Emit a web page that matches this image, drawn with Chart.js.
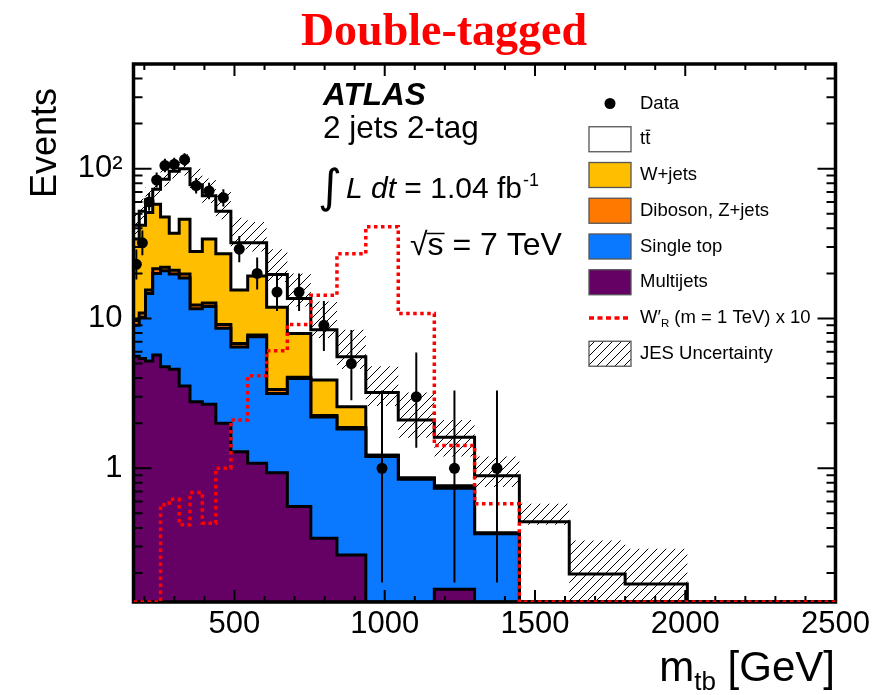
<!DOCTYPE html>
<html>
<head>
<meta charset="utf-8">
<script src="https://cdn.jsdelivr.net/npm/chart.js@4.4.1/dist/chart.umd.min.js"></script>
<style>
  html, body { margin: 0; padding: 0; background: #fff; }
  #wrap { position: relative; width: 887px; height: 695px; }
</style>
</head>
<body>
<div id="wrap"><canvas id="c" width="887" height="695"></canvas></div>
<script>
// ---- m_tb binning [GeV] (log-spaced) ----
const binEdges = [164, 183, 204, 228, 254, 283, 316, 352, 393, 438, 488, 544, 607, 676,
                  754, 841, 937, 1045, 1165, 1299, 1448, 1614, 1800, 2007, 2238, 2500];

// ---- observed events and 68% Poisson interval ----
const dataCounts  = [23, 32, 60, 84, 105, 107, 115, 77, 71, 64, 29, 20, 15, 15, 9, 5, 1, 3, 1, 1, 0, 0, 0, 0, 0];
const dataErrLow  = [18.2, 26.4, 52.3, 74.9, 94.8, 96.7, 104.3, 68.3, 62.6, 56.0, 23.7, 15.6, 11.2, 11.2, 6.06, 2.85, 0.173, 1.37, 0.173, 0.173, 0, 0, 0, 0, 0];
const dataErrHigh = [28.9, 38.7, 68.8, 94.2, 116.3, 118.4, 126.8, 86.8, 80.5, 73.0, 35.5, 25.5, 20.0, 20.0, 13.1, 8.37, 3.30, 5.92, 3.30, 3.30, 0, 0, 0, 0, 0];

// ---- background expectation per bin ----
const multijets    = [5.6, 5.4, 5.2, 5.7, 4.76, 4.59, 3.54, 2.78, 2.68, 2.0, 1.29, 1.08, 0.935, 0.555, 0.341, 0.264, 0, 0, 0.156, 0, 0, 0, 0, 0, 0];
const singleTop    = [3.4, 4.8, 9.5, 14.3, 16.04, 15.21, 15.06, 8.82, 9.32, 6.6, 5.16, 6.47, 2.225, 3.425, 1.859, 1.566, 1.2, 0.845, 0.579, 0.365, 0, 0, 0, 0, 0];
const dibosonZjets = [0.7, 0.7, 0.8, 1.5, 1.2, 1.2, 1.2, 0.7, 0.7, 0.5, 0.35, 0.2, 0.2, 0.07, 0.05, 0.04, 0.02, 0.015, 0.025, 0.005, 0, 0, 0, 0, 0];
const wjets        = [24.3, 31.1, 35.5, 36.5, 25.5, 16.0, 26.2, 15.7, 21.3, 17.9, 8.7, 11.45, 8.54, 3.89, 1.63, 0.70, 0, 0, 0, 0, 0, 0, 0, 0, 0];
const ttbar        = [8, 10, 11, 15, 37.5, 59, 54, 50, 32, 25, 16.5, 12.8, 7.8, 5.66, 4.52, 2.98, 1.98, 1.24, 0.85, 0.52, 0.44, 0.197, 0.169, 0, 0];

// ---- JES uncertainty envelope on the total expectation ----
const jesUp   = [52, 63, 75, 90, 105, 118, 125, 100, 86, 70, 47, 44, 29, 20, 13, 8.4, 4.8, 3.2, 2.1, 1.2, 0.58, 0.33, 0.29, 0, 0];
const jesDown = [36, 45, 55, 65, 76, 86, 90, 70, 59, 46, 29, 28, 17.5, 12, 7.4, 4.6, 2.6, 1.6, 1.2, 0.75, 0.42, 0.12, 0.12, 0, 0];

// ---- W'_R signal (m = 1 TeV), scaled x10 ----
const wprimeR = [0, 0, 0, 0, 0.57, 0.62, 0.42, 0.69, 0.43, 1.0, 2.1, 4.15, 6.1, 9.1, 14.3, 27, 41, 10.8, 1.42, 0.58, 0, 0, 0, 0, 0];

// ---- axis ticks ----
const xTicks = [500, 1000, 1500, 2000, 2500];
const yTicks = [1, 10, 100];
const yTickLabels = ['1', '10', '10\u00B2'];

const X_MIN = 164, X_MAX = 2500;
const Y_MIN = 0.128, Y_MAX = 500;

const COL = {
  multijets: '#650064',
  singleTop: '#0a78ff',
  diboson: '#ff7800',
  wjets: '#ffbe00',
  ttbar: '#ffffff',
  signal: '#ff0000'
};

// running sums for the stacked histogram
function stackSum(layers) {
  return layers[0].map((_, i) => layers.reduce((s, l) => s + l[i], 0));
}
const cumMultijets = stackSum([multijets]);
const cumSingleTop = stackSum([multijets, singleTop]);
const cumDiboson   = stackSum([multijets, singleTop, dibosonZjets]);
const cumWjets     = stackSum([multijets, singleTop, dibosonZjets, wjets]);
const cumTotal     = stackSum([multijets, singleTop, dibosonZjets, wjets, ttbar]);

// histogram outline: one point at each lower bin edge plus the closing edge;
// empty bins sit on the frame floor
function histPoints(vals) {
  const show = v => (v > 0 ? v : Y_MIN);
  const pts = vals.map((v, i) => ({ x: binEdges[i], y: show(v) }));
  pts.push({ x: binEdges[vals.length], y: show(vals[vals.length - 1]) });
  return pts;
}

const binCenters = binEdges.slice(0, -1).map((e, i) => (e + binEdges[i + 1]) / 2);
const dataPoints = dataCounts
  .map((n, i) => ({ x: binCenters[i], y: n, lo: dataErrLow[i], hi: dataErrHigh[i] }))
  .filter(p => p.y > 0);

const canvas = document.getElementById('c');
const ctx = canvas.getContext('2d');

function makeHatch(context) {
  const s = 9;
  const c = document.createElement('canvas');
  c.width = s; c.height = s;
  const g = c.getContext('2d');
  g.strokeStyle = '#000';
  g.lineWidth = 1;
  g.beginPath();
  g.moveTo(0, s); g.lineTo(s, 0);
  g.moveTo(-s / 2, s / 2); g.lineTo(s / 2, -s / 2);
  g.moveTo(s / 2, s * 1.5); g.lineTo(s * 1.5, s / 2);
  g.stroke();
  return context.createPattern(c, 'repeat');
}
const hatch = makeHatch(ctx);

const sans = (size, style) => (style ? style + ' ' : '') + size + 'px "Liberation Sans", Arial, sans-serif';

function stackLayer(label, vals, color, order) {
  return {
    label, data: histPoints(vals), stepped: true,
    borderColor: '#000', borderWidth: 3, backgroundColor: color,
    fill: 'start', pointRadius: 0, order, borderJoinStyle: 'miter'
  };
}

// frame with inward ROOT-style ticks on all four sides
function drawFrame(chart) {
  const c = chart.ctx, a = chart.chartArea;
  const xs = chart.scales.x, ys = chart.scales.y;
  c.save();
  c.strokeStyle = '#000';
  c.lineWidth = 2;
  c.beginPath();
  for (let v = 200; v <= X_MAX; v += 100) {
    const px = xs.getPixelForValue(v);
    const len = v % 500 === 0 ? 12 : 6;
    c.moveTo(px, a.bottom); c.lineTo(px, a.bottom - len);
    c.moveTo(px, a.top); c.lineTo(px, a.top + len);
  }
  for (let d = -1; d <= 2; d++) {
    for (let k = 1; k <= 9; k++) {
      const v = k * Math.pow(10, d);
      if (v < Y_MIN || v > Y_MAX) continue;
      const py = ys.getPixelForValue(v);
      const len = k === 1 ? 18 : 9;
      c.moveTo(a.left, py); c.lineTo(a.left + len, py);
      c.moveTo(a.right, py); c.lineTo(a.right - len, py);
    }
  }
  c.stroke();
  c.lineWidth = 3.5;
  c.strokeRect(a.left, a.top, a.right - a.left, a.bottom - a.top);
  c.restore();
}

function drawErrorBars(chart) {
  const c = chart.ctx, a = chart.chartArea;
  const xs = chart.scales.x, ys = chart.scales.y;
  c.save();
  c.beginPath();
  c.rect(a.left, a.top, a.right - a.left, a.bottom - a.top);
  c.clip();
  c.strokeStyle = '#000';
  c.lineWidth = 2;
  c.beginPath();
  dataPoints.forEach(p => {
    const px = xs.getPixelForValue(p.x);
    c.moveTo(px, ys.getPixelForValue(p.hi));
    c.lineTo(px, ys.getPixelForValue(p.lo));
  });
  c.stroke();
  c.restore();
}

function drawTexts(chart) {
  const c = chart.ctx;
  c.save();
  c.textBaseline = 'alphabetic';

  // heading
  c.fillStyle = '#ff0000';
  c.font = 'bold 46px "Liberation Serif", "Times New Roman", serif';
  c.textAlign = 'center';
  c.fillText('Double-tagged', 444, 45);

  c.fillStyle = '#000';
  c.textAlign = 'left';

  // y-axis title
  c.save();
  c.translate(56, 88);
  c.rotate(-Math.PI / 2);
  c.font = sans(36);
  c.textAlign = 'right';
  c.fillText('Events', 0, 0);
  c.restore();

  // x-axis title m_tb [GeV]
  {
    const base = 681;
    c.font = sans(42); const wm = c.measureText('m').width;
    const wr = c.measureText(' [GeV]').width;
    c.font = sans(26); const ws = c.measureText('tb').width;
    let x = 835 - (wm + ws + wr);
    c.font = sans(42); c.fillText('m', x, base); x += wm;
    c.font = sans(26); c.fillText('tb', x, base + 9); x += ws;
    c.font = sans(42); c.fillText(' [GeV]', x, base);
  }

  // experiment label block
  c.font = sans(31.5, 'italic bold');
  c.fillText('ATLAS', 323, 105);
  c.font = sans(31.5);
  c.fillText('2 jets 2-tag', 323, 138);

  // integrated luminosity
  c.font = '46px "DejaVu Sans", sans-serif';
  c.fillText('\u222B', 318, 202);
  {
    let x = 346;
    const base = 198;
    c.font = sans(30, 'italic'); c.fillText('L dt', x, base); x += c.measureText('L dt').width;
    c.font = sans(30); c.fillText(' = 1.04 fb', x, base); x += c.measureText(' = 1.04 fb').width;
    c.font = sans(18); c.fillText('-1', x + 1, base - 12);
  }

  // centre-of-mass energy
  {
    const base = 255;
    c.font = sans(32);
    c.fillText('\u221A', 410, base);
    const wr = c.measureText('\u221A').width;
    const xs = 410 + wr;
    c.fillText('s = 7 TeV', xs, base);
    const wsw = c.measureText('s').width;
    c.lineWidth = 1.5;
    c.beginPath();
    c.moveTo(xs - 1, 233.5); c.lineTo(xs + wsw + 1, 233.5);
    c.stroke();
  }

  // legend
  const lx = 589, lw = 42, lh = 25, tx = 640, y0 = 103.5, dy = 35.75;
  const items = [
    { kind: 'point', label: 'Data' },
    { kind: 'box', color: COL.ttbar, label: 'tt' },
    { kind: 'box', color: COL.wjets, label: 'W+jets' },
    { kind: 'box', color: COL.diboson, label: 'Diboson, Z+jets' },
    { kind: 'box', color: COL.singleTop, label: 'Single top' },
    { kind: 'box', color: COL.multijets, label: 'Multijets' },
    { kind: 'line', label: 'W\u2032' },
    { kind: 'hatch', label: 'JES Uncertainty' }
  ];
  c.textBaseline = 'middle';
  const lf = 18.5;
  items.forEach((it, i) => {
    const cy = y0 + i * dy;
    if (it.kind === 'point') {
      c.fillStyle = '#000';
      c.beginPath(); c.arc(lx + lw / 2, cy, 5.5, 0, Math.PI * 2); c.fill();
    } else if (it.kind === 'box' || it.kind === 'hatch') {
      c.fillStyle = it.kind === 'hatch' ? '#fff' : it.color;
      c.fillRect(lx, cy - lh / 2, lw, lh);
      if (it.kind === 'hatch') { c.fillStyle = hatch; c.fillRect(lx, cy - lh / 2, lw, lh); }
      c.strokeStyle = '#555';
      c.lineWidth = 1.3;
      c.strokeRect(lx, cy - lh / 2, lw, lh);
    } else if (it.kind === 'line') {
      c.save();
      c.strokeStyle = COL.signal; c.lineWidth = 3.5; c.setLineDash([5, 3.5]);
      c.beginPath(); c.moveTo(lx, cy); c.lineTo(lx + lw, cy); c.stroke();
      c.restore();
    }
    c.fillStyle = '#000';
    c.font = sans(lf);
    if (it.label === 'tt') {
      c.fillText('tt', tx, cy);
      const wt = c.measureText('t').width;
      c.lineWidth = 1.2; c.strokeStyle = '#000';
      c.beginPath(); c.moveTo(tx + wt + 0.5, cy - 9); c.lineTo(tx + 2 * wt, cy - 9); c.stroke();
    } else if (it.kind === 'line') {
      let x = tx;
      c.fillText('W\u2032', x, cy); x += c.measureText('W\u2032').width;
      c.font = sans(11.5); c.fillText('R', x, cy + 6); x += c.measureText('R').width;
      c.font = sans(lf); c.fillText(' (m = 1 TeV) x 10', x, cy);
    } else {
      c.fillText(it.label, tx, cy);
    }
  });
  c.restore();
}

const overlay = {
  id: 'overlay',
  beforeDatasetDraw(chart, args) {
    if (args.index === 1) drawFrame(chart);
    if (args.index === 0) drawErrorBars(chart);
  },
  afterDraw(chart) { drawTexts(chart); }
};

new Chart(ctx, {
  type: 'line',
  data: {
    datasets: [
      { // 0: data
        label: 'Data', data: dataPoints, showLine: false,
        pointRadius: 5.5, pointBackgroundColor: '#000', pointBorderWidth: 0, order: 0
      },
      { // 1: signal
        label: "W'R", data: histPoints(wprimeR), stepped: true, fill: false,
        borderColor: COL.signal, borderWidth: 3.5, borderDash: [3.5, 3.5],
        pointRadius: 0, order: 1, borderCapStyle: 'butt'
      },
      { // 2: JES upper edge, hatched down to 3
        label: 'JES up', data: histPoints(jesUp), stepped: true,
        borderWidth: 0, borderColor: 'rgba(0,0,0,0)', backgroundColor: hatch,
        fill: { target: 3 }, pointRadius: 0, order: 2
      },
      { // 3: JES lower edge
        label: 'JES down', data: histPoints(jesDown), stepped: true,
        borderWidth: 0, borderColor: 'rgba(0,0,0,0)', fill: false, pointRadius: 0, order: 3
      },
      stackLayer('Multijets', cumMultijets, COL.multijets, 4),
      stackLayer('Single top', cumSingleTop, COL.singleTop, 5),
      stackLayer('Diboson, Z+jets', cumDiboson, COL.diboson, 6),
      stackLayer('W+jets', cumWjets, COL.wjets, 7),
      stackLayer('ttbar', cumTotal, COL.ttbar, 8)
    ]
  },
  options: {
    responsive: false,
    animation: false,
    devicePixelRatio: 1,
    layout: { padding: { top: 64, right: 51.5, left: 0, bottom: 0 } },
    plugins: { legend: { display: false }, tooltip: { enabled: false }, title: { display: false } },
    scales: {
      x: {
        type: 'linear', min: X_MIN, max: X_MAX,
        afterBuildTicks: s => { s.ticks = xTicks.map(v => ({ value: v })); },
        afterFit: s => { s.height = 93; },
        grid: { display: false, drawTicks: false },
        border: { display: false },
        ticks: {
          color: '#000', padding: 4, maxRotation: 0, autoSkip: false,
          font: { family: '"Liberation Sans", Arial, sans-serif', size: 31 },
          callback: v => String(v)
        }
      },
      y: {
        type: 'logarithmic', min: Y_MIN, max: Y_MAX,
        afterBuildTicks: s => { s.ticks = yTicks.map(v => ({ value: v })); },
        afterFit: s => { s.width = 133.5; },
        grid: { display: false, drawTicks: false },
        border: { display: false },
        ticks: {
          color: '#000', padding: 11, autoSkip: false,
          font: { family: '"Liberation Sans", Arial, sans-serif', size: 31 },
          callback: (v, i) => yTickLabels[i]
        }
      }
    }
  },
  plugins: [overlay]
});
</script>
</body>
</html>
